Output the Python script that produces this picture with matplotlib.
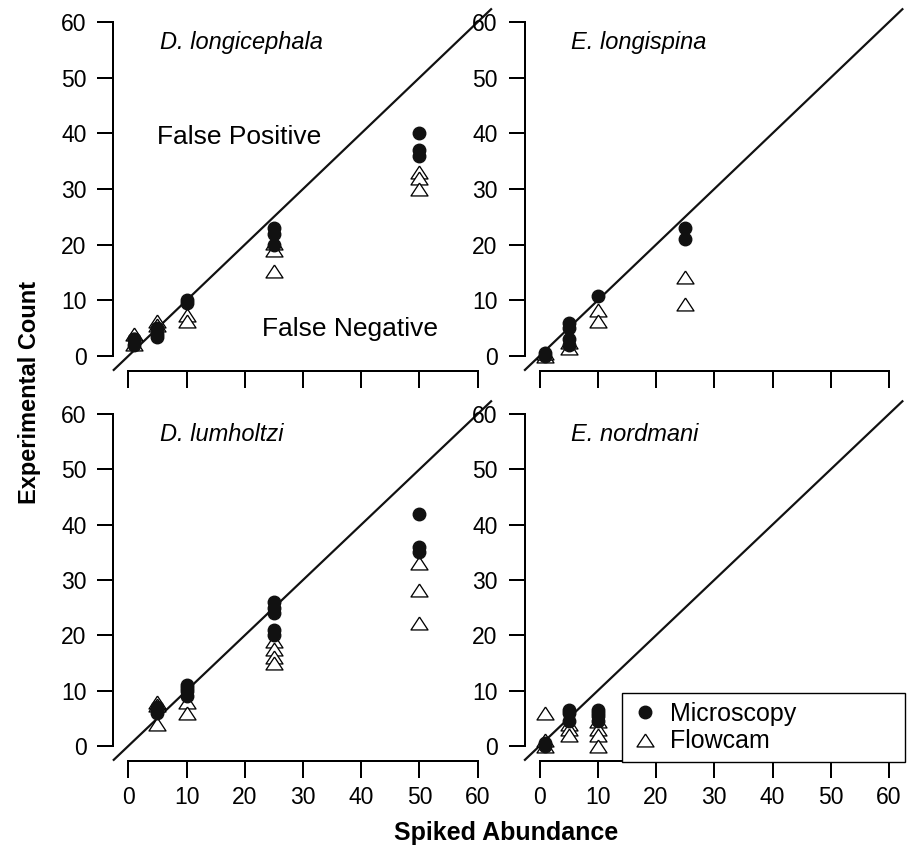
import matplotlib
matplotlib.use("Agg")
import matplotlib.pyplot as plt

plt.rcParams['font.family'] = ['Liberation Sans', 'DejaVu Sans']

# ---- data ----
species = ["D. longicephala", "E. longispina", "D. lumholtzi", "E. nordmani"]

# D. longicephala
dlc_micro_x = [1, 1, 1, 5, 5, 5, 10, 10, 25, 25, 25, 50, 50, 50]
dlc_micro_y = [2, 3, 3, 4, 5, 3.5, 10, 9.6, 23, 22, 20, 40, 37, 36]
dlc_flow_x = [1, 1, 5, 5, 10, 10, 25, 25, 25, 50, 50, 50]
dlc_flow_y = [4, 2.2, 6.2, 5.6, 7.3, 6.2, 20.3, 19, 15.3, 33, 32, 30]

# E. longispina
elo_micro_x = [1, 1, 5, 5, 5, 5, 10, 25, 25]
elo_micro_y = [0, 0.5, 6, 5, 3, 2, 10.8, 23, 21]
elo_flow_x = [1, 1, 5, 5, 10, 10, 25, 25]
elo_flow_y = [0, 0.5, 2.5, 1.5, 8.3, 6.2, 14.2, 9.3]

# D. lumholtzi
dlu_micro_x = [5, 5, 5, 10, 10, 10, 10, 25, 25, 25, 25, 25, 50, 50, 50]
dlu_micro_y = [7, 6.5, 6, 11, 10.5, 10, 9, 26, 25, 24, 21, 20, 42, 36, 35]
dlu_flow_x = [5, 5, 5, 10, 10, 25, 25, 25, 25, 50, 50, 50]
dlu_flow_y = [8, 7.5, 4, 8, 6, 19, 17.5, 16, 15, 33, 28.2, 22.2]

# E. nordmani
eno_micro_x = [1, 1, 5, 5, 5, 10, 10, 10, 10]
eno_micro_y = [0, 0.5, 6.5, 6, 4.5, 6.5, 6, 5.5, 4.5]
eno_flow_x = [1, 1, 1, 5, 5, 5, 10, 10, 10, 10]
eno_flow_y = [6, 1, 0, 4, 3, 2, 4.5, 3, 2, 0]

ticks = [0, 10, 20, 30, 40, 50, 60]
ylabel = "Experimental Count"
xlabel = "Spiked Abundance"
legend_labels = ["Microscopy", "Flowcam"]

panels = [
    (species[0], dlc_micro_x, dlc_micro_y, dlc_flow_x, dlc_flow_y),
    (species[1], elo_micro_x, elo_micro_y, elo_flow_x, elo_flow_y),
    (species[2], dlu_micro_x, dlu_micro_y, dlu_flow_x, dlu_flow_y),
    (species[3], eno_micro_x, eno_micro_y, eno_flow_x, eno_flow_y),
]

W, H = 910, 849
fig = plt.figure(figsize=(W / 100, H / 100), dpi=100)

rects = [
    (128.3, 477.7, 356, 22),
    (539.5, 889.0, 356, 22),
    (128.3, 477.7, 746, 414),
    (539.5, 889.0, 746, 414),
]

tri = [(0, 0.76), (-1, -0.76), (1, -0.76), (0, 0.76)]
PX = 72 / 100.0

axes = []
for i, ((name, mx, my, fx, fy), (x0, x1, y0, y1)) in enumerate(zip(panels, rects)):
    ax = fig.add_axes([x0 / W, (H - y0) / H, (x1 - x0) / W, (y0 - y1) / H])
    axes.append(ax)
    ax.set_xlim(0, 60)
    ax.set_ylim(0, 60)
    ax.patch.set_visible(False)
    for s in ['top', 'right']:
        ax.spines[s].set_visible(False)
    ax.spines['left'].set_position(('outward', 15 * PX))
    ax.spines['bottom'].set_position(('outward', 14.5 * PX))
    ax.spines['left'].set_bounds(0, 60)
    ax.spines['bottom'].set_bounds(0, 60)
    for s in ['left', 'bottom']:
        ax.spines[s].set_linewidth(2 * PX)
    ax.set_xticks(ticks)
    ax.set_yticks(ticks)
    ax.tick_params(direction='out', length=16.5 * PX, width=2 * PX,
                   labelsize=16.5)
    ax.tick_params(axis='y', pad=7.5)
    ax.tick_params(axis='x', pad=6.5)
    if i < 2:
        ax.tick_params(axis='x', labelbottom=False)
    ax.plot([-2.5, 62.3], [-2.5, 62.3], color='#111111', lw=2.2 * PX,
            clip_on=False, zorder=1)
    ax.plot(fx, fy, linestyle='none', marker=tri, markersize=17 * PX,
            markerfacecolor='white', markeredgecolor='black',
            markeredgewidth=1.3 * PX, clip_on=False, zorder=3,
            label=legend_labels[1])
    ax.plot(mx, my, linestyle='none', marker='o', markersize=12.5 * PX,
            markerfacecolor='#111111', markeredgecolor='#111111',
            clip_on=False, zorder=4, label=legend_labels[0])
    ax.text(5.4, 56.3, name, style='italic', fontsize=17, ha='left',
            va='center')

axes[0].text(19, 39.3, "False Positive", fontsize=19, ha='center',
             va='center')
axes[0].text(38.0, 4.8, "False Negative", fontsize=19, ha='center',
             va='center')

h, l = axes[3].get_legend_handles_labels()
bx0, by0, bx1, by1 = 622, 693, 905, 762
leg = fig.legend([h[1], h[0]], [l[1], l[0]], loc='upper left',
                 bbox_to_anchor=(bx0 / W, 1 - by1 / H, (bx1 - bx0) / W,
                                 (by1 - by0) / H),
                 mode='expand', fontsize=18,
                 frameon=True, fancybox=False, edgecolor='black',
                 facecolor='white', framealpha=1,
                 handletextpad=0.45, borderpad=0.35, labelspacing=0.15,
                 handlelength=1.1, borderaxespad=0)
leg.get_frame().set_linewidth(1.0)

fig.text(30 / W, 1 - 392 / H, ylabel, rotation=90, fontsize=17,
         fontweight='bold', ha='center', va='center',
         family=['Liberation Sans Narrow', 'Liberation Sans'])
fig.text(506 / W, 1 - 833 / H, xlabel, fontsize=18, fontweight='bold',
         ha='center', va='center',
         family=['Liberation Sans Narrow', 'Liberation Sans'])

fig.savefig("out.png", dpi=100)
